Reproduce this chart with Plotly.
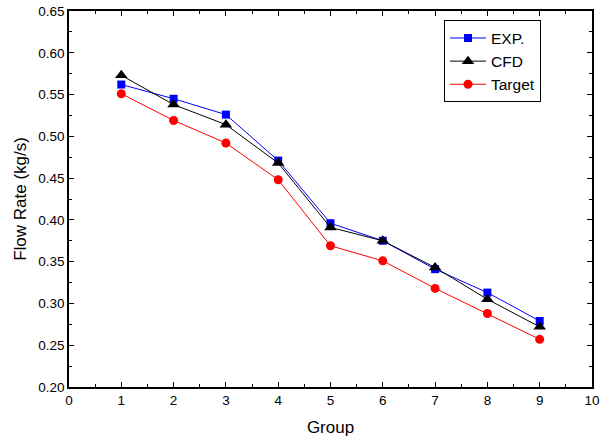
import plotly.graph_objects as go

groups = [1, 2, 3, 4, 5, 6, 7, 8, 9]
exp_vals = [0.562, 0.545, 0.526, 0.471, 0.396, 0.375, 0.341, 0.313, 0.279]
cfd_vals = [0.573, 0.538, 0.514, 0.468, 0.391, 0.375, 0.343, 0.305, 0.272]
target_vals = [0.551, 0.519, 0.492, 0.448, 0.369, 0.351, 0.318, 0.288, 0.257]

FONT = "Liberation Sans, Arial, sans-serif"

fig = go.Figure()
fig.add_trace(go.Scatter(x=groups, y=exp_vals, name="EXP.", mode="lines+markers",
                         line=dict(color="#0000ff", width=1),
                         marker=dict(symbol="square", size=8, color="#0000ff")))
fig.add_trace(go.Scatter(x=groups, y=cfd_vals, name="CFD", mode="lines+markers",
                         line=dict(color="#000000", width=1),
                         marker=dict(symbol="triangle-up", size=11, color="#000000")))
fig.add_trace(go.Scatter(x=groups, y=target_vals, name="Target", mode="lines+markers",
                         line=dict(color="#ff0000", width=1),
                         marker=dict(symbol="circle", size=9, color="#ff0000")))

axis_common = dict(
    showgrid=False, zeroline=False, showline=True, linecolor="black", linewidth=1.5,
    mirror="ticks", ticks="inside", ticklen=5, tickwidth=1, tickcolor="black",
    tickfont=dict(family=FONT, size=13.5, color="black"), automargin=False,
)

fig.update_xaxes(range=[0, 10], dtick=1, tick0=0,
                 minor=dict(ticks="inside", ticklen=3, dtick=0.5, tickcolor="black"),
                 title=dict(text="Group", font=dict(family=FONT, size=17, color="black"), standoff=14),
                 **axis_common)
fig.update_yaxes(range=[0.20, 0.65], dtick=0.05, tick0=0.2, tickformat=".2f",
                 minor=dict(ticks="inside", ticklen=3, dtick=0.025, tickcolor="black"),
                 title=dict(text="Flow Rate (kg/s)", font=dict(family=FONT, size=17, color="black"), standoff=7),
                 **axis_common)

fig.update_layout(
    width=600, height=438,
    margin=dict(l=69, r=8, t=11, b=51),
    plot_bgcolor="white", paper_bgcolor="white",
    showlegend=True,
    legend=dict(x=0.717, y=0.975, xanchor="left", yanchor="top",
                bordercolor="black", borderwidth=1, bgcolor="white",
                font=dict(family=FONT, size=15.5, color="black"),
                tracegroupgap=0, itemsizing="trace", itemwidth=36),
)

# remove the browser's default 8px body margin so the 600x438 figure fills the window
fig.write_html("out.html", config={"displayModeBar": False},
               post_script="document.body.style.margin='0';document.body.style.overflow='hidden';")
